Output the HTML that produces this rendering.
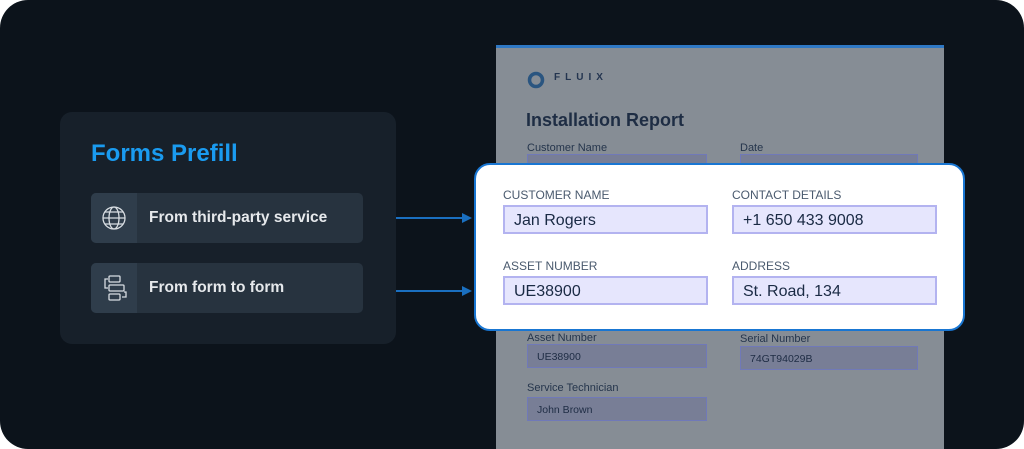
<!DOCTYPE html>
<html><head><style>
*{margin:0;padding:0;box-sizing:border-box}
body{width:1024px;height:449px;background:#fff;position:relative;overflow:hidden;font-family:"Liberation Sans",sans-serif}
.bg{position:absolute;left:0;top:0;width:1024px;height:449px;background:#0c131b;border-radius:28px}
.a{position:absolute}
.panel{left:60px;top:112px;width:336px;height:232px;background:#17202a;border-radius:12px}
.row{left:91px;width:272px;height:50px;background:#27333f;border-radius:5px;overflow:hidden}
.ic{position:absolute;left:0;top:0;width:46px;height:50px;background:#2f3d4b}
.rt{position:absolute;left:58px;top:16px;color:#e6e9ec;font-weight:bold;font-size:15.5px}
.doc{left:496px;top:45px;width:448px;height:404px;background:#868d95;border-top:3px solid #2f78c4}
.lb{position:absolute;font-size:11px;color:#25354c}
.fd{position:absolute;background:#787e96;border:1.5px solid #7079b8;font-size:10.5px;color:#1e2c44;padding:6px 0 0 9px}
.pop{left:474px;top:163px;width:491px;height:168px;background:#fff;border:2px solid #1976d2;border-radius:16px}
.pl{position:absolute;font-size:12px;color:#4a5a6e}
.pf{position:absolute;width:205px;height:29px;background:#e6e6fd;border:2px solid #b3b3f0;font-size:16px;color:#1a2a44;padding:5px 0 0 9px}
</style></head><body>
<div class="bg"></div>
<div class="a panel"></div>
<div class="a" style="left:91px;top:140px;font-size:24px;font-weight:bold;color:#1a9bf0">Forms Prefill</div>
<div class="a row" style="top:193px"><div class="ic"><svg width="46" height="50"><g fill="none" stroke="#d8dde2" stroke-width="1.3"><circle cx="23" cy="25" r="11"/><ellipse cx="23" cy="25" rx="5" ry="11"/><line x1="12" y1="25" x2="34" y2="25"/><line x1="14" y1="19" x2="32" y2="19"/><line x1="14" y1="31" x2="32" y2="31"/></g></svg></div><div class="rt">From third-party service</div></div>
<div class="a row" style="top:263px"><div class="ic"><svg width="46" height="50"><g fill="none" stroke="#d8dde2" stroke-width="1.3"><rect x="18" y="13" width="11" height="6" rx="1"/><rect x="18" y="22" width="15" height="6" rx="1"/><rect x="18" y="31" width="11" height="6" rx="1"/><path d="M17 16h-3v9h3M33 29h2v5h-4"/></g></svg></div><div class="rt">From form to form</div></div>
<svg class="a" style="left:390px;top:205px" width="90" height="100"><g stroke="#1a6fc0" stroke-width="2" fill="#1a6fc0"><line x1="6" y1="13" x2="74" y2="13"/><polygon points="72,8 82,13 72,18" stroke="none"/><line x1="6" y1="86" x2="74" y2="86"/><polygon points="72,81 82,86 72,91" stroke="none"/></g></svg>
<div class="a doc">
<svg class="a" style="left:31px;top:23px" width="18" height="18"><circle cx="9" cy="9" r="6.5" fill="none" stroke="#2a5580" stroke-width="3.5"/></svg>
<div class="a" style="left:58px;top:24px;font-size:10px;letter-spacing:5px;color:#243550;font-weight:bold">FLUIX</div>
<div class="a" style="left:30px;top:62px;font-size:18px;font-weight:bold;color:#1e2d44">Installation Report</div>
<div class="lb" style="left:31px;top:94px">Customer Name</div>
<div class="lb" style="left:244px;top:94px">Date</div>
<div class="fd" style="left:31px;top:106px;width:180px;height:20px"></div>
<div class="fd" style="left:244px;top:106px;width:178px;height:20px"></div>
<div class="lb" style="left:31px;top:284px">Asset Number</div>
<div class="fd" style="left:31px;top:296px;width:180px;height:24px">UE38900</div>
<div class="lb" style="left:244px;top:285px">Serial Number</div>
<div class="fd" style="left:244px;top:298px;width:178px;height:24px">74GT94029B</div>
<div class="lb" style="left:31px;top:334px">Service Technician</div>
<div class="fd" style="left:31px;top:349px;width:180px;height:24px">John Brown</div>
</div>
<div class="a pop">
<div class="pl" style="left:27px;top:23px">CUSTOMER NAME</div>
<div class="pl" style="left:256px;top:23px">CONTACT DETAILS</div>
<div class="pf" style="left:27px;top:40px">Jan Rogers</div>
<div class="pf" style="left:256px;top:40px">+1 650 433 9008</div>
<div class="pl" style="left:27px;top:94px">ASSET NUMBER</div>
<div class="pl" style="left:256px;top:94px">ADDRESS</div>
<div class="pf" style="left:27px;top:111px">UE38900</div>
<div class="pf" style="left:256px;top:111px">St. Road, 134</div>
</div>
</body></html>
